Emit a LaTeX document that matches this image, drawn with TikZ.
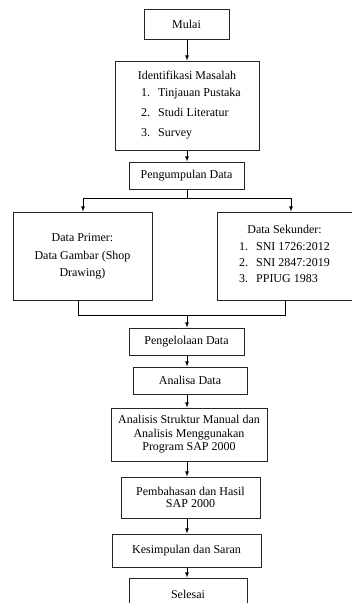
\documentclass[tikz,border=0pt]{standalone}
\usepackage{fontspec}
\setmainfont{Liberation Serif}
\begin{document}
\begin{tikzpicture}
	[
	x=1pt, y=-1pt, >=latex, font=\fontsize{12}{13.5}\selectfont,
	%Voreinstellungen
	kotak/.style={draw=black!85, line width=1pt, align=center, inner sep=0pt},
	garis/.style={line width=0.8pt},
	panah/.style={->, line width=0.8pt}
	]
	\useasboundingbox (0,0) rectangle (352,603);
	\coordinate (poros) at (187,0);
	%Kotak
	\node[kotak, minimum width=85, minimum height=30] (mulai) at (186.5,24) {Mulai};
	\node[kotak, minimum width=144, minimum height=89] (identifikasi) at (187,105.5)
		{Identifikasi Masalah\\[6.5pt]
		 \hspace*{8pt}\begin{tabular}{@{}l@{\hspace{8pt}}l@{}}
		 1. & Tinjauan Pustaka\\[6.5pt]
		 2. & Studi Literatur\\[6.5pt]
		 3. & Survey
		 \end{tabular}};
	\node[kotak, minimum width=115, minimum height=27] (kumpul) at (186.5,175.5) {Pengumpulan Data};
	\node[kotak, minimum width=139, minimum height=88] (primer) at (82.5,256)
		{Data Primer:\\[4.5pt] Data Gambar (Shop\\[3.5pt] Drawing)};
	\node[kotak, minimum width=135, minimum height=88] (sekunder) at (284.5,256)
		{Data Sekunder:\\[6.5pt]
		 \begin{tabular}{@{}l@{\hspace{8pt}}l@{}}
		 1. & SNI 1726:2012\\[2pt]
		 2. & SNI 2847:2019\\[2.5pt]
		 3. & PPIUG 1983
		 \end{tabular}};
	\node[kotak, minimum width=115, minimum height=27] (kelola) at (186.5,341.5) {Pengelolaan Data};
	\node[kotak, minimum width=114, minimum height=27] (analisa) at (190,380.5) {Analisa Data};
	\node[kotak, minimum width=156, minimum height=53] (analisis) at (189,434.5)
		{Analisis Struktur Manual dan\\ Analisis Menggunakan\\ Program SAP 2000};
	\node[kotak, minimum width=139, minimum height=41] (bahas) at (190.5,497.5)
		{Pembahasan dan Hasil\\[-1pt] SAP 2000};
	\node[kotak, minimum width=149, minimum height=33] (simpul) at (186.5,550.5) {Kesimpulan dan Saran};
	\node[kotak, minimum width=118, minimum height=32] (selesai) at (188,594) {Selesai};
	%Verzweigung
	\coordinate (cabangKiri) at (83,198);
	\coordinate (cabangKanan) at (291,198);
	\coordinate (gabungKiri) at (78,315);
	\coordinate (gabungKanan) at (285,315);
	%Pfeile
	\draw[panah] (mulai.south -| poros) -- (identifikasi.north -| poros);
	\draw[panah] (identifikasi.south -| poros) -- (kumpul.north -| poros);
	\draw[garis] (kumpul.south -| poros) -- (poros |- cabangKiri);
	\draw[garis] (cabangKiri) -- (cabangKanan);
	\draw[panah] (cabangKiri) -- (primer.north -| cabangKiri);
	\draw[panah] (cabangKanan) -- (sekunder.north -| cabangKanan);
	\draw[garis] (primer.south -| gabungKiri) -- (gabungKiri) -- (gabungKanan) -- (sekunder.south -| gabungKanan);
	\draw[panah] (poros |- gabungKiri) -- (kelola.north -| poros);
	\draw[panah] (kelola.south -| poros) -- (analisa.north -| poros);
	\draw[panah] (analisa.south -| poros) -- (analisis.north -| poros);
	\draw[panah] (analisis.south -| poros) -- (bahas.north -| poros);
	\draw[panah] (bahas.south -| poros) -- (simpul.north -| poros);
	\draw[panah] (simpul.south -| poros) -- (selesai.north -| poros);
\end{tikzpicture}
\end{document}
